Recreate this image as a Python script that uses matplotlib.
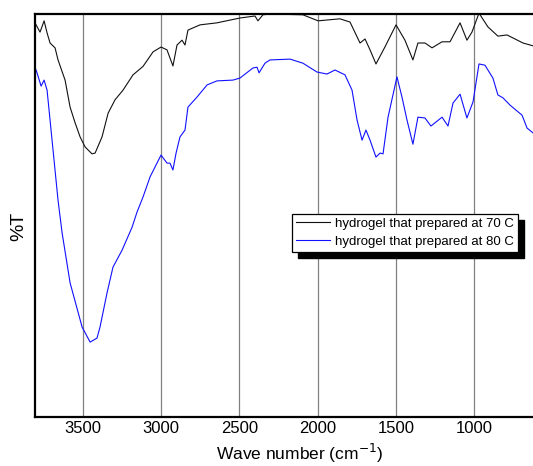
import numpy as np
import matplotlib
matplotlib.use("Agg")
import matplotlib.pyplot as plt
from matplotlib.patches import Rectangle

plt.rcParams['font.family'] = ['Liberation Sans', 'DejaVu Sans']

# wavenumber (cm-1) and %T (arbitrary scale)
wn_70 = [3805, 3773, 3747, 3728, 3709, 3677, 3658, 3613, 3581, 3549, 3517, 3485,
         3441, 3421, 3377, 3338, 3294, 3243, 3179, 3115, 3051, 3000, 2962, 2924,
         2898, 2866, 2847, 2828, 2751, 2643, 2496, 2400, 2381, 2349, 2304, 2094,
         1997, 1857, 1793, 1729, 1697, 1665, 1627, 1570, 1499, 1442, 1391, 1359,
         1314, 1269, 1205, 1154, 1090, 1046, 1014, 969, 912, 848, 790, 688, 624]
t_70 = [97.8, 95.5, 98.3, 95.3, 92.8, 91.6, 88.6, 83.6, 76.9, 73.0, 69.5, 67.0,
        65.3, 65.5, 69.5, 75.4, 78.7, 81.1, 84.9, 87.0, 90.6, 91.8, 91.1, 87.1,
        92.3, 93.5, 92.3, 96.0, 97.3, 97.8, 99.0, 99.5, 98.3, 99.8, 100.0, 99.8,
        98.3, 98.8, 98.0, 92.8, 93.8, 91.1, 87.6, 91.8, 97.3, 93.5, 88.6, 92.8,
        92.8, 91.6, 93.1, 93.1, 97.8, 93.5, 95.5, 100.2, 96.8, 94.5, 94.8, 92.8,
        92.1]

wn_80 = [3798, 3766, 3747, 3728, 3658, 3632, 3581, 3504, 3453, 3409, 3390, 3345,
         3307, 3249, 3185, 3153, 3115, 3070, 3026, 3000, 2962, 2943, 2924, 2904,
         2879, 2847, 2828, 2770, 2706, 2643, 2540, 2496, 2413, 2387, 2374, 2336,
         2304, 2176, 2094, 2004, 1940, 1889, 1825, 1780, 1748, 1716, 1691, 1665,
         1627, 1601, 1582, 1550, 1493, 1461, 1429, 1391, 1359, 1314, 1276, 1205,
         1167, 1135, 1090, 1046, 1007, 969, 931, 880, 848, 816, 771, 694, 662, 624]
t_80 = [86.1, 82.1, 83.6, 81.1, 53.8, 45.7, 33.3, 22.3, 18.6, 19.6, 22.3, 30.8,
        37.2, 41.4, 47.1, 50.9, 54.6, 59.6, 63.0, 65.0, 63.0, 63.0, 61.3, 65.5,
        69.5, 71.2, 76.9, 79.4, 82.4, 83.4, 83.6, 84.1, 86.6, 86.8, 85.4, 87.8,
        88.6, 88.8, 87.8, 85.6, 85.1, 86.1, 84.9, 81.1, 73.7, 68.7, 71.2, 68.7,
        64.5, 65.5, 65.3, 74.4, 84.4, 79.4, 73.7, 67.7, 74.4, 74.2, 72.2, 74.4,
        72.2, 77.9, 80.1, 74.2, 78.2, 87.6, 87.3, 84.1, 79.9, 79.2, 77.4, 74.9,
        71.7, 70.5]

labels = ["hydrogel that prepared at 70 C", "hydrogel that prepared at 80 C"]
xticks = [3500, 3000, 2500, 2000, 1500, 1000]

fig = plt.figure(figsize=(5.33, 4.66), dpi=100)
ax = fig.add_axes([0.0657, 0.105, 0.9343, 0.865])

ax.plot(wn_70, t_70, color='#111111', lw=0.8, label=labels[0])
ax.plot(wn_80, t_80, color='#1010ff', lw=0.8, label=labels[1])

ax.set_xlim(3805, 624)
ax.set_ylim(0, 100)
ax.set_xticks(xticks)
ax.set_yticks([])
ax.tick_params(axis='x', length=0, pad=3, labelsize=12)
ax.grid(axis='x', color='#808080', lw=0.9)
ax.set_axisbelow(True)

for s in ['left', 'bottom', 'top']:
    ax.spines[s].set_linewidth(1.6)
ax.spines['right'].set_visible(False)

ax.set_xlabel("Wave number (cm$^{-1}$)", fontsize=12.5, va='baseline')
ax.xaxis.set_label_coords(0.532, -0.107)
ax.set_ylabel("%T", fontsize=14)
ax.yaxis.set_label_coords(-0.016, 0.474)

leg = ax.legend(loc='upper left', bbox_to_anchor=(0.516, 0.504), borderaxespad=0,
                fancybox=False, framealpha=1, edgecolor='black', fontsize=9.5,
                handlelength=2.6, handletextpad=0.35, labelspacing=0.4,
                borderpad=0.3)
leg.get_frame().set_linewidth(0.9)

# black drop shadow under the legend box
fig.canvas.draw()
bb = leg.get_window_extent().transformed(fig.transFigure.inverted())
dx, dy = 6 / 533, 6 / 466
shadow = Rectangle((bb.x0 + dx, bb.y0 - dy), bb.width, bb.height,
                   transform=fig.transFigure, color='black', zorder=4)
ax.add_artist(shadow)
leg.set_zorder(5)

fig.savefig("out.png", dpi=100)
